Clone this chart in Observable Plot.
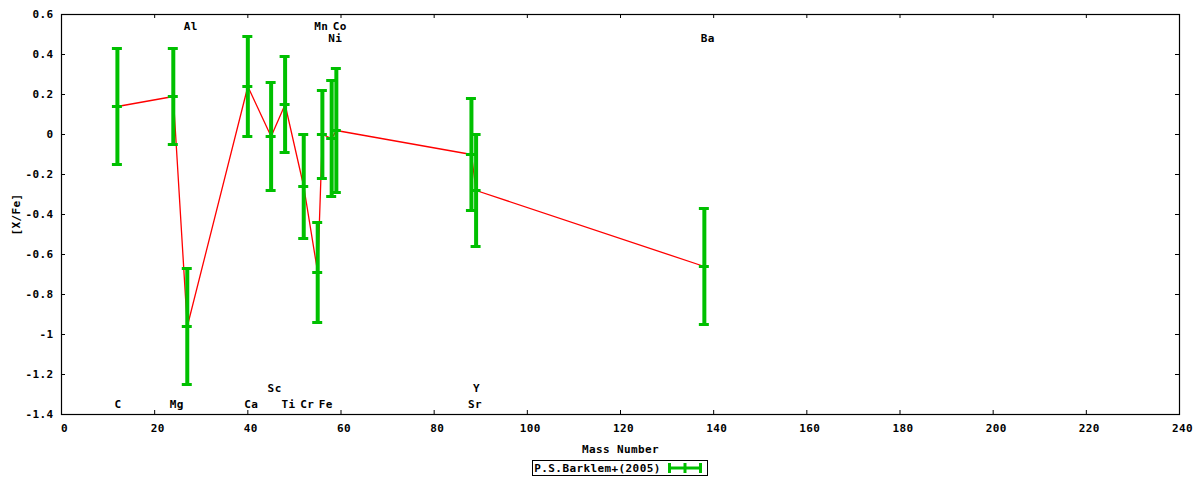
<!DOCTYPE html>
<html><head><meta charset="utf-8">
<script src="https://cdn.jsdelivr.net/npm/d3@7"></script>
<script src="https://cdn.jsdelivr.net/npm/@observablehq/plot@0.6"></script>
<style>
body{margin:0;background:#fff;}
#legend{display:flex;justify-content:center;margin-top:5px;padding-left:61px;padding-right:21px;}
.box{border:1px solid #000;display:flex;align-items:center;font:bold 11px "DejaVu Sans Mono",monospace;letter-spacing:0.4px;height:14px;padding:0 4px 0 1px;gap:6px;}
</style></head><body>
<div id="chart"></div>
<div id="legend"></div>
<script>
const elements    = ["C","Mg","Al","Ca","Sc","Ti","Cr","Mn","Fe","Ni","Co","Sr","Y","Ba"];
const massNumbers = [12,24,27,40,45,48,52,55,56,58,59,88,89,138];
const xFeValues   = [0.14,0.19,-0.96,0.24,-0.01,0.15,-0.26,-0.69,0.00,-0.02,0.02,-0.10,-0.28,-0.66];
const xFeErrors   = [0.29,0.24,0.29,0.25,0.27,0.24,0.26,0.25,0.22,0.29,0.31,0.28,0.28,0.29];
const labelY      = [-1.35,-1.35,0.54,-1.35,-1.27,-1.35,-1.35,0.54,-1.35,0.48,0.54,-1.35,-1.27,0.48];
const xTicks = [0,20,40,60,80,100,120,140,160,180,200,220,240];
const yTicks = [0.6,0.4,0.2,0,-0.2,-0.4,-0.6,-0.8,-1,-1.2,-1.4];
const seriesName = "P.S.Barklem+(2005)";

const data = elements.map((el, i) => ({
  el, mass: massNumbers[i], v: xFeValues[i], e: xFeErrors[i],
  lo: xFeValues[i] - xFeErrors[i], hi: xFeValues[i] + xFeErrors[i], ly: labelY[i]
}));

const W = 1200, H = 455, mL = 61, mR = 21, mT = 14, mB = 41;
const xDom = [0, 240], yDom = [-1.4, 0.6];
const tx = 4 * (xDom[1] - xDom[0]) / (W - mL - mR);
const ty = 4 * (yDom[1] - yDom[0]) / (H - mT - mB);
const green = "#00c000", red = "#ff0000";

const chart = Plot.plot({
  width: W, height: H,
  marginLeft: mL, marginRight: mR, marginTop: mT, marginBottom: mB,
  x: {domain: xDom},
  y: {domain: yDom},
  style: "font: bold 11px 'DejaVu Sans Mono', monospace; letter-spacing: 0.4px; background: #fff; color: #000; overflow: visible;",
  marks: [
    Plot.ruleX(xTicks, {x: d => d, y1: yDom[0], y2: yDom[0] + ty, stroke: "#000"}),
    Plot.ruleX(xTicks, {x: d => d, y1: yDom[1], y2: yDom[1] - ty, stroke: "#000"}),
    Plot.ruleY(yTicks, {y: d => d, x1: xDom[0], x2: xDom[0] + tx, stroke: "#000"}),
    Plot.ruleY(yTicks, {y: d => d, x1: xDom[1] - tx, x2: xDom[1], stroke: "#000"}),
    Plot.axisX({ticks: xTicks, tickSize: 0, tickPadding: 10, dx: 3, tickFormat: d => String(d),
      label: "Mass Number", labelAnchor: "center", labelArrow: "none", labelOffset: 38, fill: "#000"}),
    Plot.axisY({ticks: yTicks, tickSize: 0, tickPadding: 8, tickFormat: d => String(d),
      label: "[X/Fe]", labelAnchor: "center", labelArrow: "none", labelOffset: 49, fill: "#000"}),
    Plot.line(data, {x: "mass", y: "v", stroke: red, strokeWidth: 1.3}),
    Plot.ruleX(data, {x: "mass", y1: "lo", y2: "hi", stroke: green, strokeWidth: 4}),
    Plot.ruleY(data, {y: "hi", x1: "mass", x2: "mass", insetLeft: -5, insetRight: -5, stroke: green, strokeWidth: 3}),
    Plot.ruleY(data, {y: "lo", x1: "mass", x2: "mass", insetLeft: -5, insetRight: -5, stroke: green, strokeWidth: 3}),
    Plot.ruleY(data, {y: "v", x1: "mass", x2: "mass", insetLeft: -5, insetRight: -5, stroke: green, strokeWidth: 3}),
    Plot.text(data.filter(d => d.el.length === 1), {x: "mass", y: "ly", text: "el", dx: 0.5, fill: "#000"}),
    Plot.text(data.filter(d => d.el.length > 1), {x: "mass", y: "ly", text: "el", dx: 3.5, fill: "#000"}),
    Plot.frame({stroke: "#000", strokeWidth: 1.2})
  ]
});
document.getElementById("chart").append(chart);

const box = document.createElement("div");
box.className = "box";
const span = document.createElement("span");
span.textContent = seriesName;
box.append(span);
const sw = d3.create("svg").attr("width", 36).attr("height", 12);
sw.append("line").attr("x1", 2).attr("x2", 34).attr("y1", 6).attr("y2", 6).attr("stroke", green).attr("stroke-width", 3);
[2.5, 18, 33.5].forEach(x => sw.append("line").attr("x1", x).attr("x2", x).attr("y1", 1).attr("y2", 11).attr("stroke", green).attr("stroke-width", 3));
box.append(sw.node());
document.getElementById("legend").append(box);
</script>
</body></html>
